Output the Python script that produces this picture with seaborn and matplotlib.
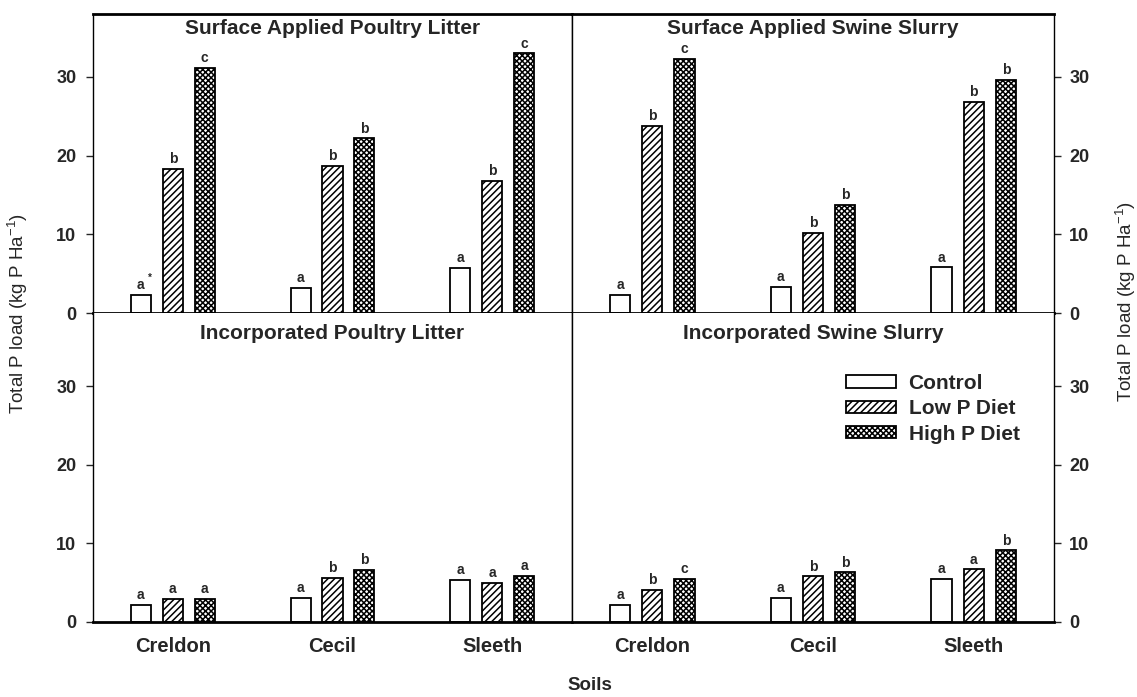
import matplotlib
matplotlib.use("Agg")
import matplotlib.pyplot as plt
import seaborn as sns
import pandas as pd

sns.set_theme(style="white")
plt.rcParams['font.family'] = ['Liberation Sans', 'DejaVu Sans']
plt.rcParams['mathtext.fontset'] = 'custom'
plt.rcParams['mathtext.rm'] = 'Liberation Sans'
plt.rcParams['mathtext.default'] = 'regular'
plt.rcParams['hatch.linewidth'] = 1.1
plt.rcParams['hatch.color'] = 'black'

soils = ["Creldon", "Cecil", "Sleeth"]
diets = ["Control", "Low P Diet", "High P Diet"]

# values per soil: [Control, Low P Diet, High P Diet]
surface_poultry = [[2.3, 18.3, 31.2], [3.2, 18.7, 22.2], [5.7, 16.8, 33.0]]
surface_swine = [[2.3, 23.8, 32.3], [3.3, 10.2, 13.7], [5.8, 26.8, 29.6]]
incorp_poultry = [[2.2, 2.9, 2.9], [3.1, 5.6, 6.6], [5.4, 5.0, 5.9]]
incorp_swine = [[2.2, 4.1, 5.5], [3.1, 5.8, 6.3], [5.5, 6.7, 9.1]]

letters_surface_poultry = [["a", "b", "c"], ["a", "b", "b"], ["a", "b", "c"]]
letters_surface_swine = [["a", "b", "c"], ["a", "b", "b"], ["a", "b", "b"]]
letters_incorp_poultry = [["a", "a", "a"], ["a", "b", "b"], ["a", "a", "a"]]
letters_incorp_swine = [["a", "b", "c"], ["a", "b", "b"], ["a", "a", "b"]]

titles = ["Surface Applied Poultry Litter", "Surface Applied Swine Slurry",
          "Incorporated Poultry Litter", "Incorporated Swine Slurry"]
yticks = [0, 10, 20, 30]
hatches = ["", "/////", "xxxxxx"]

W, H = 1137, 697
fig = plt.figure(figsize=(W / 100, H / 100), dpi=100)

def fr(x0, y0, x1, y1):
    return [x0 / W, 1 - y1 / H, (x1 - x0) / W, (y1 - y0) / H]

ax_tl = fig.add_axes(fr(93, 14, 572, 313))
ax_tr = fig.add_axes(fr(572, 14, 1054, 313))
ax_bl = fig.add_axes(fr(93, 313, 572, 622))
ax_br = fig.add_axes(fr(572, 313, 1054, 622))

panels = [
    (ax_tl, surface_poultry, letters_surface_poultry, titles[0], True, False, 38.0),
    (ax_tr, surface_swine, letters_surface_swine, titles[1], True, True, 38.0),
    (ax_bl, incorp_poultry, letters_incorp_poultry, titles[2], False, False, 39.3),
    (ax_br, incorp_swine, letters_incorp_swine, titles[3], False, True, 39.3),
]

for ax, vals, lets, title, is_top, is_right, ytop in panels:
    rows = []
    for si, s in enumerate(soils):
        for di, d in enumerate(diets):
            rows.append({"Soil": s, "Diet": d, "Load": vals[si][di]})
    df = pd.DataFrame(rows)
    sns.barplot(data=df, x="Soil", y="Load", hue="Diet", order=soils, hue_order=diets,
                palette={d: "white" for d in diets}, edgecolor="black", linewidth=1.3,
                width=0.6, gap=0.37, errorbar=None, legend=False, ax=ax)
    for di, cont in enumerate(ax.containers):
        for p in cont.patches:
            p.set_hatch(hatches[di])
        ax.bar_label(cont, labels=[lets[si][di] for si in range(3)], padding=2,
                     fontsize=10, fontweight="bold")
    ax.set_xlim(-0.5, 2.5)
    ax.set_ylim(0, ytop)
    ax.set_yticks(yticks)
    ax.set_xlabel("")
    ax.set_ylabel("")
    ax.text(0.5, 0.953 if is_top else 0.935, title, transform=ax.transAxes,
            ha="center", va="center", fontsize=15, fontweight="bold")
    ax.tick_params(axis="x", length=0, pad=11)
    if is_top:
        ax.set_xticklabels([])
    else:
        ax.set_xticks(range(3))
        ax.set_xticklabels(soils, fontsize=14.5, fontweight="bold")
    if is_right:
        ax.yaxis.tick_right()
        ax.tick_params(axis="y", left=False, right=True, labelleft=False, labelright=True,
                       direction="out", length=5, width=1, pad=6, labelsize=13)
    else:
        ax.tick_params(axis="y", left=True, right=False, direction="out",
                       length=5, width=1, pad=7, labelsize=13)
    for lbl in ax.get_yticklabels():
        lbl.set_fontweight("bold")
    for side in ["left", "right", "top", "bottom"]:
        ax.spines[side].set_color("black")
        ax.spines[side].set_linewidth(1.0)
    ax.spines["bottom"].set_linewidth(2.0)
    if is_top:
        ax.spines["top"].set_linewidth(2.0)
    else:
        ax.spines["top"].set_visible(False)

# small asterisk next to the first letter
ax_tl.annotate("*", xy=(ax_tl.containers[0].patches[0].get_x() + 0.12, surface_poultry[0][0] + 2.2),
               fontsize=7, fontweight="bold", ha="center", va="center")

handles = [ax_br.containers[i].patches[0] for i in range(3)]
fig.legend(handles, diets, loc="upper left", bbox_to_anchor=(846 / W, 1 - 374 / H),
           frameon=False, prop={"weight": "bold", "size": 15},
           handlelength=2.4, handleheight=0.55, handletextpad=0.6, labelspacing=0.3,
           borderpad=0, borderaxespad=0)

ylab = r"Total P load (kg P Ha$^{-1}$)"
fig.text(18 / W, 1 - 314 / H, ylab, rotation=90, ha="center", va="center", fontsize=13.5)
fig.text(1126 / W, 1 - 302 / H, ylab, rotation=90, ha="center", va="center", fontsize=13.5)
fig.text(590 / W, 1 - 686 / H, "Soils", ha="center", va="center", fontsize=13.5, fontweight="bold")

fig.savefig("out.png", dpi=100, facecolor="white")
